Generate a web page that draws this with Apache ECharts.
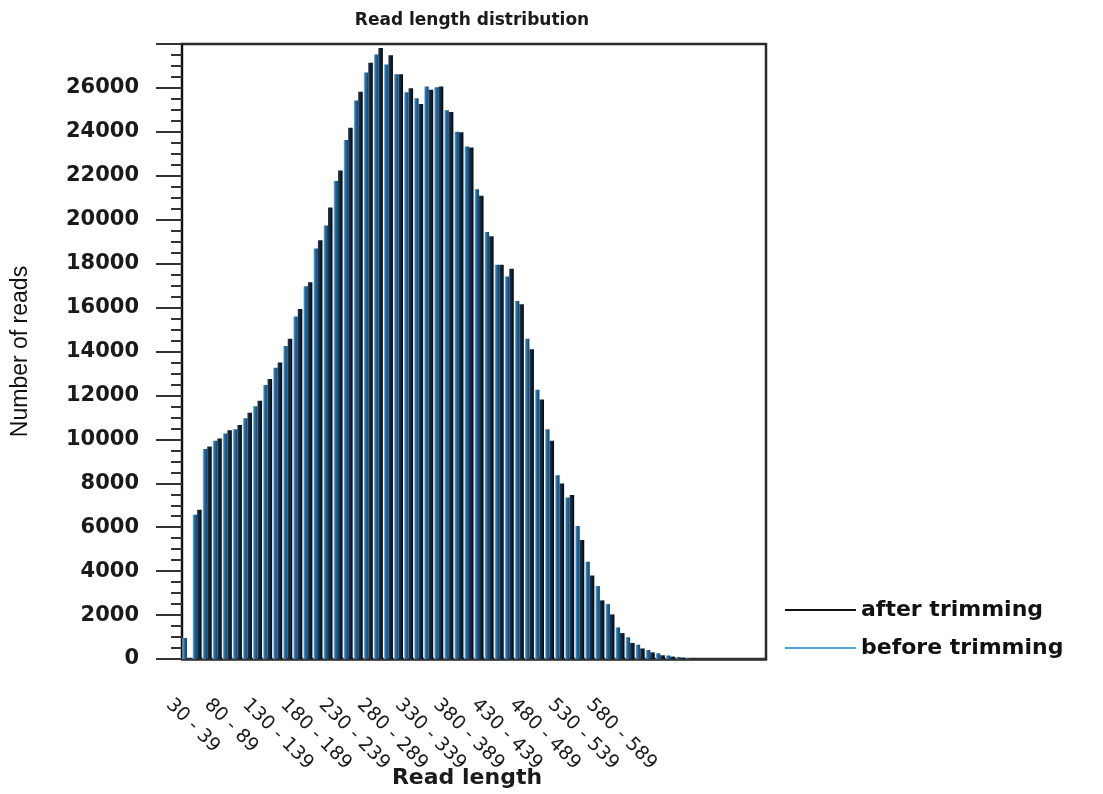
<!DOCTYPE html>
<html>
<head>
<meta charset="utf-8">
<script src="https://cdn.jsdelivr.net/npm/echarts@6/dist/echarts.min.js"></script>
<style>
html, body { margin: 0; padding: 0; background: #fff; }
#main { width: 1103px; height: 794px; }
</style>
</head>
<body>
<div id="main"></div>
<script>
// read length bins of 10 (30 - 39 ... 600 - 609)
var bins = [];
for (var s = 30; s <= 600; s += 10) {
	bins.push(s + ' - ' + (s + 9));
}
var tickLabels = ['30 - 39','80 - 89','130 - 139','180 - 189','230 - 239','280 - 289',
	'330 - 339','380 - 389','430 - 439','480 - 489','530 - 539','580 - 589'];

var beforeTrimming = [960, 6570, 9560, 9940, 10270, 10460, 10960, 11510, 12480, 13260,
	14250, 15590, 16970, 18690, 19740, 21760, 23630, 25430, 26700, 27520,
	27070, 26620, 25800, 25530, 26070, 26030, 24980, 24000, 23330, 21390,
	19440, 17950, 17420, 16300, 14580, 12260, 10460, 8370, 7350, 6050,
	4430, 3320, 2500, 1440, 990, 650, 410, 260, 160, 90, 30];
var afterTrimming = [0, 6790, 9670, 10040, 10420, 10650, 11210, 11760, 12750, 13500,
	14580, 15930, 17150, 19070, 20560, 22240, 24190, 25830, 27150, 27820,
	27490, 26620, 25980, 25270, 25920, 26070, 24900, 23980, 23290, 21090,
	19250, 17950, 17770, 16150, 14100, 11810, 9940, 7990, 7470, 5420,
	3800, 2670, 2030, 1180, 730, 480, 300, 170, 110, 60, 20];

var chart = echarts.init(document.getElementById('main'));

var option = {
	backgroundColor: '#fff',
	animation: false,
	title: {
		text: 'Read length distribution',
		left: 467,
		textAlign: 'center',
		top: 7,
		textStyle: { fontFamily: 'DejaVu Sans', fontWeight: 'bold', fontSize: 17, color: '#1a1a1a' }
	},
	legend: {
		orient: 'vertical',
		left: 780,
		top: 594,
		itemWidth: 71,
		itemHeight: 2,
		itemGap: 16,
		icon: 'rect',
		textStyle: { fontFamily: 'DejaVu Sans', fontWeight: 'bold', fontSize: 22, color: '#111' },
		data: [
			{ name: 'after trimming', itemStyle: { color: '#111' } },
			{ name: 'before trimming', itemStyle: { color: '#4ba3dc' } }
		]
	},
	grid: [
		{ left: 182, top: 44, width: 584, height: 624, show: true, borderColor: '#2a2a2a', borderWidth: 2.5 },
		{ left: 150, top: 44, width: 458, height: 624 }
	],
	xAxis: [
		{
			type: 'category',
			gridIndex: 0,
			data: bins,
			boundaryGap: true,
			axisLine: { lineStyle: { color: '#333', width: 2.5 } },
			axisTick: { show: false },
			axisLabel: { show: false },
			name: 'Read length',
			nameLocation: 'middle',
			nameGap: 108,
			nameTextStyle: { fontFamily: 'DejaVu Sans', fontWeight: 'bold', fontSize: 22, color: '#1a1a1a', padding: [0, 14, 0, 0] }
		},
		{
			type: 'category',
			gridIndex: 1,
			data: tickLabels,
			boundaryGap: true,
			axisLine: { show: false },
			axisTick: { show: false },
			axisLabel: { rotate: -45, margin: 34, fontFamily: 'DejaVu Sans', fontSize: 19, color: '#1a1a1a', interval: 0 }
		}
	],
	yAxis: [
		{
			type: 'value',
			gridIndex: 0,
			min: 0,
			max: 28000,
			interval: 2000,
			axisLine: { show: true, lineStyle: { color: '#111', width: 2 } },
			axisTick: { show: true, length: 26, lineStyle: { color: '#333', width: 2 } },
			minorTick: { show: true, splitNumber: 4, length: 11, lineStyle: { color: '#333', width: 2 } },
			splitLine: { show: false },
			axisLabel: {
				margin: 43, showMaxLabel: false,
				fontFamily: 'DejaVu Sans', fontWeight: 'bold', fontSize: 21, color: '#1a1a1a',
				formatter: function (v) { return String(v); }
			},
			name: 'Number of reads',
			nameLocation: 'middle',
			nameRotate: 90,
			nameGap: 150,
			nameTextStyle: { fontFamily: 'Liberation Sans Narrow, Liberation Sans', fontSize: 23, color: '#111' }
		},
		{ type: 'value', gridIndex: 1, show: false }
	],
	series: [
		{
			name: 'before trimming',
			type: 'bar',
			xAxisIndex: 0,
			yAxisIndex: 0,
			data: beforeTrimming,
			barGap: '0%',
			barCategoryGap: '10%',
			itemStyle: {
				color: new echarts.graphic.LinearGradient(0, 0, 1, 0, [
					{ offset: 0, color: '#a8d8f2' },
					{ offset: 0.3, color: '#2a78b4' },
					{ offset: 1, color: '#153f68' }
				])
			}
		},
		{
			name: 'after trimming',
			type: 'bar',
			xAxisIndex: 0,
			yAxisIndex: 0,
			data: afterTrimming,
			barGap: '0%',
			barCategoryGap: '10%',
			itemStyle: {
				color: new echarts.graphic.LinearGradient(0, 0, 1, 0, [
					{ offset: 0, color: '#1f3a55' },
					{ offset: 1, color: '#02060b' }
				])
			}
		}
	]
};

chart.setOption(option);
</script>
</body>
</html>
